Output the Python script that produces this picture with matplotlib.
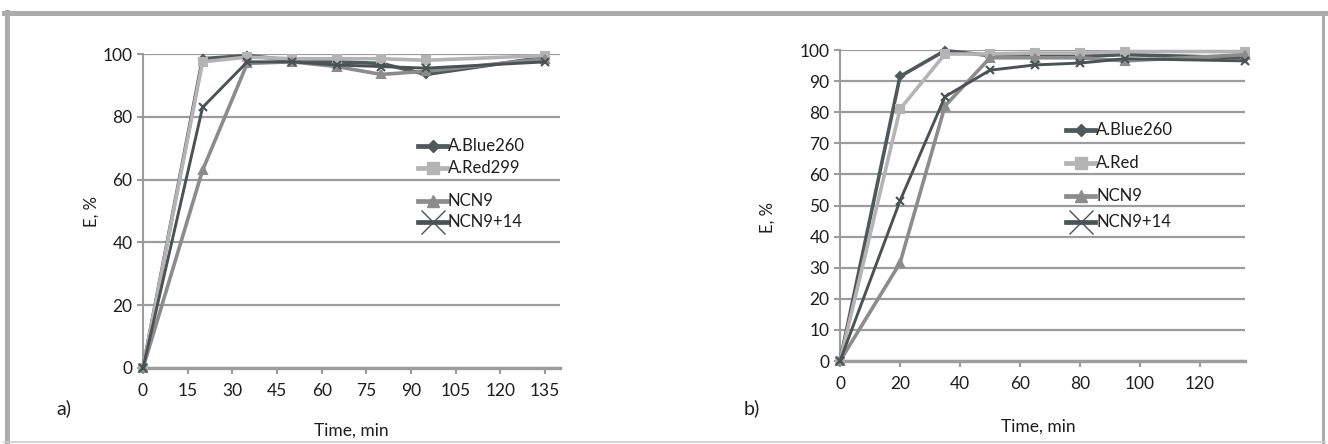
import matplotlib
matplotlib.use("Agg")
import matplotlib.pyplot as plt
from matplotlib.lines import Line2D

plt.rcParams['font.family'] = ['Lato', 'DejaVu Sans']

# chart a) values
time_a = [0, 20, 35, 50, 65, 80, 95, 135]
blue_a = [0, 98.5, 99.5, 98, 97.5, 97, 93.5, 99]
red_a = [0, 97.5, 99, 98.5, 98.5, 98.5, 98, 99.5]
ncn9_a = [0, 63, 97, 97.5, 96, 93.5, 94.5, 98.5]
ncn914_a = [0, 83, 97.5, 97.5, 96.5, 96, 95.5, 97.5]
names_a = ['A.Blue260', 'A.Red299', 'NCN9', 'NCN9+14']
xticks_a = [0, 15, 30, 45, 60, 75, 90, 105, 120, 135]
yticks_a = [0, 20, 40, 60, 80, 100]

# chart b) values
time_b = [0, 20, 35, 50, 65, 80, 95, 135]
blue_b = [0, 91.5, 99.8, 98.2, 98, 98, 98.5, 97.5]
red_b = [0, 81, 98.7, 98.7, 99, 99, 99.5, 99.5]
ncn9_b = [0, 31.5, 82, 97.5, 97.5, 97.5, 96.5, 98.5]
ncn914_b = [0, 51.5, 85, 93.5, 95.2, 95.8, 97.2, 96.5]
names_b = ['A.Blue260', 'A.Red', 'NCN9', 'NCN9+14']
xticks_b = [0, 20, 40, 60, 80, 100, 120]
yticks_b = [0, 10, 20, 30, 40, 50, 60, 70, 80, 90, 100]

# color, marker, marker size, line width
styles = [('#4f5959', 'D', 4.5, 2.6),
          ('#b4b4b4', 's', 6, 2.6),
          ('#8c8c8c', '^', 6, 2.6),
          ('#4a5353', 'x', 6, 2.1)]

W, H = 1328, 444
GRID = '#9c9c9c'
TXT = '#1e1e1e'

fig = plt.figure(figsize=(W / 100, H / 100), dpi=100)


def px(x, y):
    # pixel position (from top-left) to figure fraction
    return x / W, 1 - y / H


def setup(ax, xticks, yticks, xmax):
    ax.set_xlim(0, xmax)
    ax.set_ylim(0, 100)
    ax.set_xticks(xticks)
    ax.set_yticks(yticks)
    for s in ['top', 'right']:
        ax.spines[s].set_visible(False)
    ax.spines['left'].set_color(GRID)
    ax.spines['left'].set_linewidth(1.5)
    ax.spines['bottom'].set_color(GRID)
    ax.spines['bottom'].set_linewidth(2.4)
    ax.yaxis.grid(True, color=GRID, linewidth=1.6)
    ax.set_axisbelow(True)
    ax.tick_params(axis='both', direction='out', length=4, width=1.5,
                   color=GRID, labelsize=12.5, labelcolor=TXT)
    ax.tick_params(axis='x', pad=7)
    ax.set_ylabel('E, %', fontsize=12, color=TXT)
    ax.set_xlabel('Time, min', fontsize=12.5, color=TXT)


def draw(ax, t, series):
    for vals, (c, m, ms, lw) in zip(series, styles):
        ax.plot(t, vals, color=c, lw=lw, marker=m, ms=ms, mec=c, mfc=c,
                mew=1.5, clip_on=False, zorder=3)


def legend_item(x0, y, name, style, big_x=False):
    c, m, ms, lw = style
    x1 = x0 + 29
    (fx0, fy), (fx1, _) = px(x0, y), px(x1, y)
    fig.add_artist(Line2D([fx0, fx1], [fy, fy], color=c, lw=3.4,
                          transform=fig.transFigure))
    if big_x:
        fig.add_artist(Line2D([(fx0 + fx1) / 2], [fy], marker='x', ms=17,
                              mew=1.0, color=c, transform=fig.transFigure))
    else:
        fig.add_artist(Line2D([(fx0 + fx1) / 2], [fy], marker=m, ms=ms + 2,
                              color=c, mec=c, transform=fig.transFigure))
    tx, ty = px(x1 + 1, y)
    fig.text(tx, ty, name, fontsize=12, color=TXT, va='center')


# chart a)
ax1 = fig.add_axes([143 / W, 1 - 368 / H, 417 / W, 314 / H])
setup(ax1, xticks_a, yticks_a, 140)
draw(ax1, time_a, [blue_a, red_a, ncn9_a, ncn914_a])
ax1.yaxis.set_label_coords(-0.105, 0.5)
ax1.xaxis.set_label_coords(0.5, -0.175)
for name, y, st in zip(names_a, [146, 168, 201, 222], styles):
    legend_item(418, y, name, st, big_x=(st[1] == 'x'))

# chart b)
ax2 = fig.add_axes([840 / W, 1 - 361 / H, 405 / W, 311 / H])
setup(ax2, xticks_b, yticks_b, 135)
draw(ax2, time_b, [blue_b, red_b, ncn9_b, ncn914_b])
ax2.yaxis.set_label_coords(-0.16, 0.46)
ax2.xaxis.set_label_coords(0.49, -0.185)
for name, y, st in zip(names_b, [130, 163, 196, 222], styles):
    legend_item(1066, y, name, st, big_x=(st[1] == 'x'))

# panel letters
fig.text(*px(64, 408), 'a)', fontsize=14, color=TXT, va='center', ha='center')
fig.text(*px(752, 408), 'b)', fontsize=14, color=TXT, va='center', ha='center')

# outer frame
frame = '#acacac'
fig.add_artist(Line2D([6.5 / W, 6.5 / W], [1 - 12 / H, 1 - 442 / H], color=frame, lw=3.6,
                      transform=fig.transFigure))
fig.add_artist(Line2D([4 / W, 1325 / W], [1 - 13 / H, 1 - 13 / H], color=frame, lw=3.6,
                      transform=fig.transFigure))
fig.add_artist(Line2D([1323 / W, 1323 / W], [1 - 12 / H, 1 - 442 / H], color=frame, lw=2.2,
                      transform=fig.transFigure))
fig.add_artist(Line2D([4 / W, 1325 / W], [1 - 442 / H, 1 - 442 / H], color='#cccccc', lw=1.2,
                      transform=fig.transFigure))

fig.savefig('out.png', dpi=100)
